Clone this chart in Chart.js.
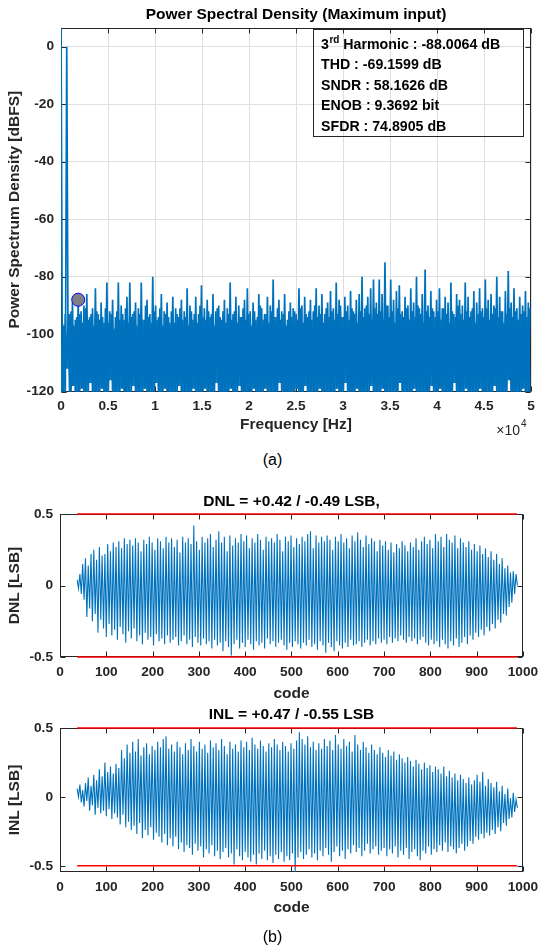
<!DOCTYPE html>
<html>
<head>
<meta charset="utf-8">
<script src="https://cdn.jsdelivr.net/npm/chart.js@4.4.0/dist/chart.umd.min.js"></script>
<style>
  body { margin: 0; background: #fff; width: 545px; height: 949px; position: relative; overflow: hidden; }
  canvas { position: absolute; left: 0; }
  .cap { position: absolute; left: 0; width: 545px; text-align: center; font: 16px 'Liberation Sans', Arial, sans-serif; color: #000; line-height: 18px; }
</style>
</head>
<body>
<canvas id="psd" width="545" height="440" style="top:0"></canvas>
<div class="cap" style="top:451px">(a)</div>
<canvas id="dnl" width="545" height="225" style="top:485px"></canvas>
<canvas id="inl" width="545" height="225" style="top:700px"></canvas>
<div class="cap" style="top:928px">(b)</div>
<script>
// spectrum, one bin = 305 Hz; each bin keeps its max, its second max and its min (dBFS)
const binHz = 305;
const psdPeak = [
  12, -97, 0, -93, -89, -95, -88.0064, -92, -90, -86,
  -94, -91, -84, -93, -89, -96, -82, -92, -88, -94,
  -82, -90, -95, -87, -82, -93, -89, -91, -82, -95,
  -88, -93, -80, -90, -94, -86, -92, -89, -96, -87,
  -91, -94, -88, -92, -84, -90, -95, -87, -93, -83,
  -91, -88, -94, -86, -92, -90, -95, -88, -91, -82,
  -93, -87, -90, -94, -88, -84, -92, -89, -95, -86,
  -91, -93, -87, -90, -81, -94, -88, -92, -86, -95,
  -89, -91, -93, -84, -90, -87, -94, -88, -92, -84,
  -90, -86, -93, -89, -85, -91, -82, -88, -94, -87,
  -90, -85, -92, -88, -86, -80, -91, -87, -84, -81,
  -89, -81, -86, -75, -90, -81, -88, -85, -83, -92,
  -87, -90, -84, -89, -80, -91, -86, -77.5, -90, -85,
  -92, -88, -84, -91, -87, -89, -82, -93, -86, -88,
  -90, -82, -87, -92, -85, -89, -84, -91, -81, -88,
  -86, -90, -80, -87, -92, -85, -78, -89, -84, -91,
  -87, -90, -85, -89
];
const psdMid = [
  -96, -93, -95, -92, -97, -94, -93, -96, -91, -95,
  -93, -97, -92, -95, -94, -91, -96, -93, -98, -92,
  -95, -93, -91, -96, -94, -92, -97, -93, -95, -90,
  -94, -96, -92, -95, -91, -97, -93, -94, -92, -96,
  -93, -91, -95, -94, -97, -92, -93, -96, -90, -94,
  -95, -92, -93, -97, -91, -94, -92, -96, -93, -95,
  -92, -96, -94, -91, -95, -93, -97, -92, -94, -90,
  -95, -93, -96, -92, -94, -91, -95, -93, -97, -92,
  -94, -92, -95, -91, -96, -93, -92, -95, -90, -94,
  -93, -96, -91, -94, -92, -95, -93, -90, -94, -92,
  -95, -91, -93, -96, -92, -94, -90, -93, -95, -91,
  -93, -92, -95, -90, -94, -92, -96, -91, -93, -94,
  -91, -95, -92, -94, -90, -93, -96, -92, -94, -91,
  -94, -92, -95, -91, -93, -96, -92, -94, -90, -93,
  -95, -92, -94, -91, -96, -93, -92, -94, -91, -95,
  -93, -91, -94, -92, -96, -93, -91, -94, -92, -95,
  -93, -92, -94, -91
];
const psdTrough = [
  -121, -121, -112, -121, -118, -121, -121, -119, -121, -121,
  -117, -121, -121, -121, -119, -121, -121, -116, -121, -121,
  -121, -119, -121, -121, -121, -118, -121, -121, -121, -119,
  -121, -121, -121, -117, -121, -121, -119, -121, -121, -121,
  -121, -118, -121, -121, -121, -121, -119, -121, -121, -121,
  -119, -121, -121, -121, -117, -121, -121, -121, -121, -119,
  -121, -121, -118, -121, -121, -121, -121, -119, -121, -121,
  -121, -119, -121, -121, -121, -121, -117, -121, -121, -121,
  -121, -121, -119, -121, -121, -118, -121, -121, -121, -121,
  -119, -121, -121, -121, -121, -121, -119, -121, -121, -117,
  -121, -121, -121, -119, -121, -121, -121, -121, -118, -121,
  -121, -121, -119, -121, -121, -121, -121, -121, -117, -121,
  -121, -121, -121, -119, -121, -121, -121, -121, -121, -118,
  -121, -121, -119, -121, -121, -121, -121, -117, -121, -121,
  -121, -119, -121, -121, -121, -121, -119, -121, -121, -121,
  -121, -118, -121, -121, -121, -121, -116, -121, -121, -121,
  -121, -119, -121, -121
];
const harmonicHz = 1830;
const harmonicDb = -88.0064;
const metrics = [
  ['THD', '-69.1599 dB'],
  ['SNDR', '58.1626 dB'],
  ['ENOB', '9.3692 bit'],
  ['SFDR', '74.8905 dB']
];
const freqTicks = [0, 5000, 10000, 15000, 20000, 25000, 30000, 35000, 40000, 45000, 50000];

// linearity, one group = 6 codes starting at code 37; max then min of each group (LSB)
const firstCode = 37;
const codeStep = 6;
const limitCodes = [37, 987];
const limitLsb = 0.5;
const dnlPeak = [
  0.04, 0.08, 0.15, 0.19, 0.14, 0.22, 0.25, 0.18, 0.27, 0.21,
  0.22, 0.29, 0.24, 0.3, 0.27, 0.31, 0.26, 0.33, 0.29, 0.32,
  0.28, 0.33, 0.3, 0.24, 0.32, 0.29, 0.34, 0.3, 0.25, 0.33,
  0.31, 0.26, 0.34, 0.3, 0.33, 0.27, 0.32, 0.23, 0.34, 0.3,
  0.33, 0.29, 0.42, 0.31, 0.25, 0.34, 0.3, 0.33, 0.36, 0.27,
  0.32, 0.38, 0.3, 0.34, 0.24, 0.35, 0.28, 0.33, 0.3, 0.36,
  0.31, 0.35, 0.26, 0.33, 0.3, 0.36, 0.32, 0.25, 0.34, 0.31,
  0.33, 0.3, 0.36, 0.32, 0.24, 0.34, 0.31, 0.35, 0.27, 0.33,
  0.29, 0.34, 0.31, 0.36, 0.38, 0.26, 0.35, 0.3, 0.34, 0.31,
  0.35, 0.32, 0.25, 0.34, 0.31, 0.36, 0.3, 0.33, 0.26, 0.35,
  0.31, 0.37, 0.32, 0.27, 0.35, 0.29, 0.33, 0.31, 0.24, 0.32,
  0.28, 0.31, 0.25, 0.3, 0.23, 0.29, 0.26, 0.31, 0.28, 0.24,
  0.3, 0.27, 0.33, 0.25, 0.31, 0.34, 0.29, 0.32, 0.26, 0.36,
  0.31, 0.34, 0.27, 0.36, 0.32, 0.3, 0.35, 0.26, 0.33, 0.3,
  0.27, 0.31, 0.25, 0.29, 0.24, 0.28, 0.22, 0.26, 0.2, 0.24,
  0.18, 0.22, 0.15, 0.19, 0.12, 0.14, 0.09, 0.1, 0.08
];
const dnlTrough = [
  -0.02, -0.06, -0.1, -0.22, -0.16, -0.25, -0.2, -0.33, -0.24, -0.3,
  -0.36, -0.27, -0.35, -0.31, -0.38, -0.29, -0.34, -0.4, -0.32, -0.37,
  -0.3, -0.39, -0.35, -0.41, -0.33, -0.38, -0.36, -0.42, -0.34, -0.39,
  -0.37, -0.41, -0.35, -0.4, -0.38, -0.36, -0.42, -0.39, -0.35, -0.41,
  -0.38, -0.43, -0.36, -0.4, -0.42, -0.37, -0.41, -0.39, -0.44, -0.38,
  -0.42, -0.4, -0.46, -0.39, -0.43, -0.49, -0.41, -0.38, -0.44, -0.4,
  -0.43, -0.38, -0.41, -0.45, -0.39, -0.42, -0.4, -0.44, -0.37, -0.41,
  -0.39, -0.43, -0.4, -0.38, -0.42, -0.45, -0.4, -0.43, -0.39, -0.41,
  -0.44, -0.4, -0.42, -0.38, -0.43, -0.41, -0.45, -0.39, -0.42, -0.47,
  -0.4, -0.43, -0.46, -0.39, -0.42, -0.44, -0.4, -0.43, -0.38, -0.42,
  -0.41, -0.39, -0.43, -0.4, -0.38, -0.42, -0.39, -0.41, -0.37, -0.4,
  -0.38, -0.41, -0.36, -0.4, -0.37, -0.39, -0.35, -0.38, -0.4, -0.36,
  -0.39, -0.37, -0.41, -0.38, -0.36, -0.4, -0.42, -0.38, -0.41, -0.39,
  -0.43, -0.38, -0.41, -0.44, -0.39, -0.42, -0.37, -0.43, -0.4, -0.36,
  -0.41, -0.35, -0.38, -0.33, -0.36, -0.31, -0.35, -0.29, -0.32, -0.27,
  -0.3, -0.24, -0.26, -0.2, -0.21, -0.15, -0.12, -0.06, 0.0
];
const inlPeak = [
  0.06, 0.09, 0.05, 0.1, 0.14, 0.08, 0.16, 0.12, 0.2, 0.15,
  0.25, 0.18, 0.22, 0.17, 0.24, 0.21, 0.34, 0.28, 0.38, 0.32,
  0.4, 0.33, 0.42, 0.3, 0.36, 0.39, 0.31, 0.37, 0.34, 0.4,
  0.36, 0.42, 0.44, 0.35, 0.38, 0.33, 0.4, 0.36, 0.31, 0.39,
  0.34, 0.42, 0.37, 0.33, 0.4, 0.35, 0.38, 0.32, 0.41, 0.36,
  0.39, 0.34, 0.42, 0.37, 0.31, 0.4, 0.35, 0.38, 0.33, 0.41,
  0.36, 0.4, 0.34, 0.43, 0.38, 0.35, 0.41, 0.37, 0.33, 0.39,
  0.36, 0.42, 0.38, 0.34, 0.4, 0.37, 0.33, 0.39, 0.35, 0.41,
  0.47, 0.42, 0.38, 0.44, 0.36, 0.4, 0.34, 0.39, 0.35, 0.42,
  0.37, 0.41, 0.34, 0.45, 0.38, 0.35, 0.42, 0.37, 0.4, 0.33,
  0.45, 0.38, 0.34, 0.4, 0.36, 0.32, 0.38, 0.34, 0.31, 0.36,
  0.32, 0.29, 0.34, 0.3, 0.33, 0.27, 0.31, 0.28, 0.25, 0.29,
  0.26, 0.22, 0.27, 0.24, 0.2, 0.25, 0.21, 0.23, 0.18, 0.22,
  0.2, 0.17, 0.22, 0.15, 0.19, 0.14, 0.17, 0.12, 0.16, 0.13,
  0.1, 0.14, 0.09, 0.12, 0.16, 0.11, 0.18, 0.08, 0.13, 0.1,
  0.07, 0.11, 0.04, 0.08, 0.02, 0.06, -0.01, 0.03, -0.02
];
const inlTrough = [
  0.0, -0.04, -0.07, -0.03, -0.1, -0.06, -0.13, -0.08, -0.12, -0.1,
  -0.14, -0.09, -0.16, -0.12, -0.15, -0.2, -0.13, -0.22, -0.18, -0.24,
  -0.21, -0.27, -0.19, -0.3, -0.24, -0.28, -0.22, -0.31, -0.26, -0.29,
  -0.33, -0.27, -0.35, -0.3, -0.36, -0.29, -0.38, -0.33, -0.4, -0.35,
  -0.37, -0.42, -0.34, -0.39, -0.36, -0.44, -0.38, -0.41, -0.35, -0.43,
  -0.39, -0.45, -0.4, -0.37, -0.44, -0.41, -0.49, -0.38, -0.43, -0.46,
  -0.4, -0.44, -0.47, -0.42, -0.49, -0.41, -0.45, -0.39, -0.46, -0.43,
  -0.48, -0.42, -0.45, -0.4, -0.47, -0.43, -0.46, -0.41, -0.55, -0.44,
  -0.4, -0.45, -0.42, -0.38, -0.44, -0.41, -0.46, -0.39, -0.43, -0.37,
  -0.42, -0.47, -0.4, -0.36, -0.43, -0.39, -0.45, -0.38, -0.41, -0.35,
  -0.4, -0.37, -0.43, -0.39, -0.34, -0.41, -0.38, -0.36, -0.42, -0.39,
  -0.37, -0.43, -0.38, -0.41, -0.36, -0.44, -0.39, -0.42, -0.37, -0.45,
  -0.4, -0.38, -0.43, -0.46, -0.39, -0.41, -0.36, -0.42, -0.38, -0.4,
  -0.35, -0.39, -0.33, -0.4, -0.36, -0.38, -0.41, -0.37, -0.34, -0.39,
  -0.36, -0.32, -0.34, -0.29, -0.31, -0.27, -0.3, -0.26, -0.28, -0.24,
  -0.27, -0.22, -0.25, -0.19, -0.21, -0.16, -0.15, -0.11, -0.08
];

const FONT = "'Liberation Sans', Arial, sans-serif";
const AXIS = '#262626';
const BLUE = '#0072BD';
const tickFont = { family: FONT, size: 13.7, weight: 'bold' };
const labelFont = { family: FONT, size: 15.5, weight: 'bold' };

Chart.defaults.font.family = FONT;
Chart.defaults.animation = false;

// zigzag through max/min of each group so the trace fills like the raw data
function zigzag(peaks, troughs, x0, step) {
  const pts = [];
  peaks.forEach((v, i) => {
    pts.push({ x: x0 + i * step, y: v });
    pts.push({ x: x0 + i * step + step / 2, y: troughs[i] });
  });
  return pts;
}

// same, with the minimum first: fills the gaps between the maxima
function zagzig(mids, troughs, x0, step) {
  const pts = [];
  mids.forEach((v, i) => {
    pts.push({ x: x0 + i * step, y: troughs[i] });
    pts.push({ x: x0 + i * step + step / 2, y: v });
  });
  return pts;
}

// box around the plot with inward tick marks on all four sides
const frame = {
  id: 'frame',
  beforeDatasetsDraw(chart) {
    const { ctx, chartArea: a, scales: { x, y } } = chart;
    const L = Math.round(a.left) + 0.5, R = Math.round(a.right) - 0.5;
    const T = Math.round(a.top) + 0.5, B = Math.round(a.bottom) - 0.5;
    ctx.save();
    ctx.strokeStyle = AXIS;
    ctx.lineWidth = 1;
    ctx.strokeRect(L, T, R - L, B - T);
    ctx.beginPath();
    x.ticks.forEach(t => {
      const px = Math.round(x.getPixelForValue(t.value)) + 0.5;
      ctx.moveTo(px, B); ctx.lineTo(px, B - 5);
      ctx.moveTo(px, T); ctx.lineTo(px, T + 5);
    });
    y.ticks.forEach(t => {
      const py = Math.round(y.getPixelForValue(t.value)) + 0.5;
      ctx.moveTo(L, py); ctx.lineTo(L + 5, py);
      ctx.moveTo(R, py); ctx.lineTo(R - 5, py);
    });
    ctx.stroke();
    ctx.restore();
  }
};

// metrics box and the x10^4 exponent of the frequency axis
const psdNotes = {
  id: 'psdNotes',
  afterDraw(chart) {
    const { ctx, chartArea: a } = chart;
    const right = Math.round(a.right) - 8, top = Math.round(a.top) + 1;
    const left = right - 210, bottom = top + 107;
    ctx.save();
    ctx.strokeStyle = AXIS;
    ctx.lineWidth = 1;
    ctx.strokeRect(left + 0.5, top + 0.5, right - left, bottom - top);
    ctx.fillStyle = '#000';
    ctx.textBaseline = 'middle';
    ctx.textAlign = 'left';
    const big = 'bold 14.2px ' + FONT;
    const small = 'bold 10px ' + FONT;
    let tx = left + 8, ty = top + 16;
    ctx.font = big;
    ctx.fillText('3', tx, ty);
    tx += ctx.measureText('3').width;
    ctx.font = small;
    ctx.fillText('rd', tx + 0.5, ty - 5);
    tx += ctx.measureText('rd').width + 0.5;
    ctx.font = big;
    ctx.fillText(' Harmonic : ' + harmonicDb.toFixed(4) + ' dB', tx, ty);
    metrics.forEach(([k, v], i) => {
      ctx.fillText(k + ' : ' + v, left + 8, ty + 20.5 * (i + 1));
    });
    // exponent under the right end of the x axis
    ctx.fillStyle = AXIS;
    ctx.font = '14px ' + FONT;
    ctx.textAlign = 'right';
    ctx.fillText('\u00d710', a.right - 11, a.bottom + 39);
    ctx.font = '10px ' + FONT;
    ctx.textAlign = 'left';
    ctx.fillText('4', a.right - 10, a.bottom + 33);
    ctx.restore();
  }
};

const psdLine = data => ({
  data,
  borderColor: BLUE,
  borderWidth: 1.7,
  pointRadius: 0,
  tension: 0,
  order: 1
});

new Chart(document.getElementById('psd'), {
  type: 'line',
  data: {
    datasets: [
      {
        data: [{ x: harmonicHz, y: harmonicDb }],
        showLine: false,
        pointRadius: 6.5,
        pointBackgroundColor: '#808080',
        pointBorderColor: '#0000ff',
        pointBorderWidth: 1,
        order: 0
      },
      psdLine(zigzag(psdPeak, psdTrough, 0, binHz)),
      psdLine(zagzig(psdMid, psdTrough, 0, binHz))
    ]
  },
  options: {
    responsive: false,
    layout: { padding: { left: 0, right: 14, top: 0, bottom: 0 } },
    plugins: {
      legend: { display: false },
      tooltip: { enabled: false },
      title: {
        display: true,
        fullSize: false,
        text: 'Power Spectral Density (Maximum input)',
        color: '#000',
        font: labelFont,
        padding: { top: 5.7, bottom: 3.4 }
      }
    },
    scales: {
      x: {
        type: 'linear',
        min: 0,
        max: 50000,
        afterFit: s => { s.height = 48.3; },
        afterBuildTicks: s => { s.ticks = freqTicks.map(v => ({ value: v })); },
        ticks: { autoSkip: false, maxRotation: 0, padding: 6.8, color: AXIS, font: tickFont, callback: v => String(v / 10000) },
        grid: { color: '#dfdfdf', drawTicks: false },
        border: { display: false },
        title: { display: true, text: 'Frequency [Hz]', color: AXIS, font: labelFont, padding: { top: 0, bottom: 5.7 } }
      },
      y: {
        min: -120,
        max: 6.6,
        afterFit: s => { s.width = 61; },
        ticks: { stepSize: 20, includeBounds: false, padding: 7, color: AXIS, font: tickFont },
        grid: { color: '#dfdfdf', drawTicks: false },
        border: { display: false },
        title: { display: true, text: 'Power Spectrum Density [dBFS]', color: AXIS, font: labelFont, padding: { top: 5.7, bottom: 0 } }
      }
    }
  },
  plugins: [frame, psdNotes]
});

function linearityChart(id, name, peaks, troughs, yMin, titlePad, xTitlePad) {
  const hi = Math.max(...peaks), lo = Math.min(...troughs);
  const limit = v => ({
    data: limitCodes.map(c => ({ x: c, y: v })),
    borderColor: '#ff0000',
    borderWidth: 1.5,
    pointRadius: 0,
    clip: false,
    order: 0
  });
  new Chart(document.getElementById(id), {
    type: 'line',
    data: {
      datasets: [
        limit(limitLsb),
        limit(-limitLsb),
        {
          data: zigzag(peaks, troughs, firstCode, codeStep),
          borderColor: BLUE,
          borderWidth: 1.1,
          pointRadius: 0,
          tension: 0,
          order: 1
        }
      ]
    },
    options: {
      responsive: false,
      layout: { padding: { left: 0, right: 18, top: 0, bottom: 0 } },
      plugins: {
        legend: { display: false },
        tooltip: { enabled: false },
        title: {
          display: true,
          fullSize: false,
          text: name + ' = +' + hi.toFixed(2) + ' / ' + lo.toFixed(2) + ' LSB' + (name === 'DNL' ? ',' : ''),
          color: '#000',
          font: labelFont,
          padding: titlePad
        }
      },
      scales: {
        x: {
          type: 'linear',
          min: 0,
          max: 1000,
          afterFit: s => { s.height = 225 - 172; },
          ticks: { stepSize: 100, autoSkip: false, maxRotation: 0, padding: 6.8, color: AXIS, font: tickFont, callback: v => String(v) },
          grid: { display: false, drawTicks: false },
          border: { display: false },
          title: { display: true, text: 'code', color: AXIS, font: labelFont, padding: { top: 0, bottom: xTitlePad } }
        },
        y: {
          min: yMin,
          max: 0.5,
          afterFit: s => { s.width = 60; },
          ticks: { stepSize: 0.5, includeBounds: false, padding: 7, color: AXIS, font: tickFont },
          grid: { display: false, drawTicks: false },
          border: { display: false },
          title: { display: true, text: name + ' [LSB]', color: AXIS, font: labelFont, padding: { top: 5.7, bottom: 0 } }
        }
      }
    },
    plugins: [frame]
  });
}

linearityChart('dnl', 'DNL', dnlPeak, dnlTrough, -0.5, { top: 7.7, bottom: 2.7 }, 6.7);
linearityChart('inl', 'INL', inlPeak, inlTrough, -0.545, { top: 5.7, bottom: 3.7 }, 7.7);
</script>
</body>
</html>
